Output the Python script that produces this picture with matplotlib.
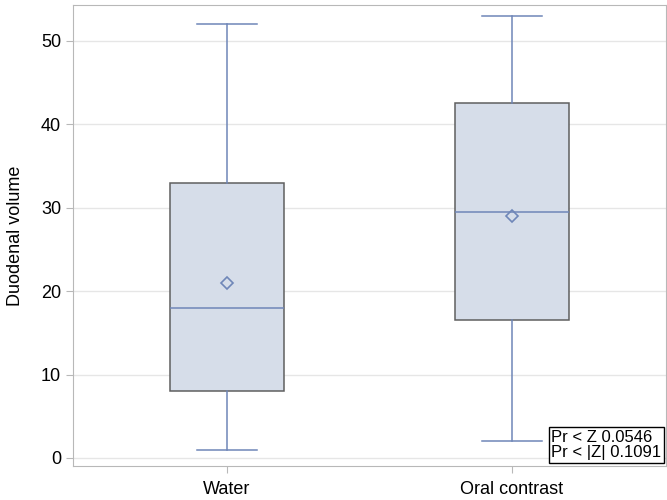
import matplotlib.pyplot as plt

groups = ["Water", "Oral contrast"]
whislo = [1, 2]
q1 = [8, 16.6]
med = [18, 29.5]
q3 = [33, 42.5]
whishi = [52, 53]
means = [21, 29]

stats = []
for i, g in enumerate(groups):
    stats.append(dict(label=g, whislo=whislo[i], q1=q1[i], med=med[i], q3=q3[i],
                      whishi=whishi[i], mean=means[i], fliers=[]))

plt.rcParams["font.family"] = ["Liberation Sans", "DejaVu Sans"]
fig = plt.figure(figsize=(6.67, 5), dpi=100)
ax = fig.add_axes([73 / 667, 34 / 500, 593 / 667, 461 / 500])

line_c = "#6f86b8"
ax.bxp(stats, positions=[0, 1], widths=0.40, showmeans=True, patch_artist=True,
       boxprops=dict(facecolor="#d6dde9", edgecolor="#5f5f5f", linewidth=1.1),
       medianprops=dict(color=line_c, linewidth=1.1),
       whiskerprops=dict(color=line_c, linewidth=1.1),
       capprops=dict(color=line_c, linewidth=1.1),
       capwidths=0.21,
       meanprops=dict(marker="D", markerfacecolor="none", markeredgecolor=line_c,
                      markersize=6.5, markeredgewidth=1.2))

ax.set_xlim(-0.54, 1.54)
ax.set_ylim(-0.96, 54.3)
ax.set_yticks([0, 10, 20, 30, 40, 50])
ax.yaxis.grid(True, color="#e6e6e6", linewidth=1)
ax.set_axisbelow(True)
for s in ax.spines.values():
    s.set_color("#b8b8b8")
ax.tick_params(axis="both", labelsize=13, color="#b8b8b8", length=5)
ax.tick_params(axis="x", pad=6)
ax.set_ylabel("Duodenal volume", fontsize=13, labelpad=12)

ax.text(0.992, 0.012, "Pr < Z 0.0546\nPr < |Z| 0.1091", transform=ax.transAxes,
        fontsize=12, linespacing=1.05, va="bottom", ha="right", multialignment="left",
        bbox=dict(boxstyle="square,pad=0.15", facecolor="white", edgecolor="black", linewidth=1))

fig.savefig("out.png")
